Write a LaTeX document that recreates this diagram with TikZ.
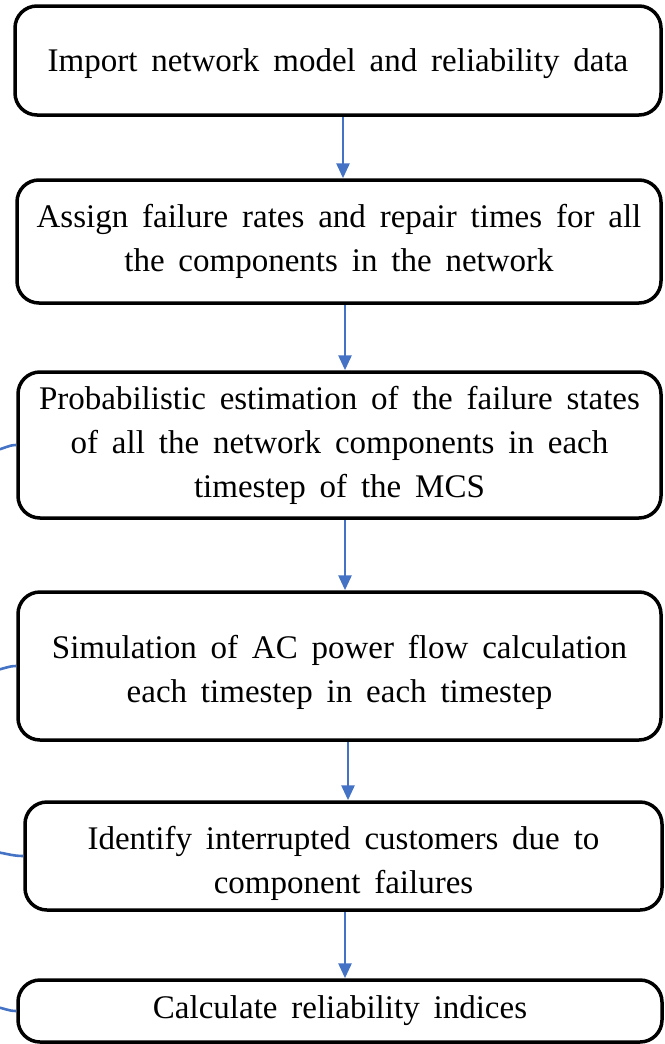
\documentclass[tikz,border=0pt]{standalone}
\usepackage{fontspec}
\setmainfont{Liberation Serif}
\usetikzlibrary{arrows.meta}
\definecolor{flowblue}{RGB}{68,114,196}
\newcommand\stepfont{\fontsize{33pt}{44pt}\selectfont\spaceskip=0.42em plus 0.1em\relax}
\tikzset{
  stepbox/.style={draw=black, line width=3.5pt, rounded corners=22pt,
    inner sep=0pt, align=center, fill=white, font=\stepfont},
  flow/.style={draw=flowblue, line width=2.8pt,
    -{Triangle[length=15pt,width=13pt]}},
  loopend/.style={draw=flowblue, line width=2.6pt}
}
\begin{document}
\begin{tikzpicture}[x=1pt,y=1pt]
\useasboundingbox (0,0) rectangle (664,-1044);
\clip (0,0) rectangle (664,-1044);

\node[stepbox, minimum width=646pt, minimum height=109pt, text height=29pt] (b1) at (338,-60.5)
  {Import network model and reliability data};
\node[stepbox, minimum width=644pt, minimum height=123pt] (b2) at (339,-241.5)
  {Assign failure rates and repair times for all\\the components in the network};
\node[stepbox, minimum width=643pt, minimum height=146pt] (b3) at (339.5,-445)
  {Probabilistic estimation of the failure states\\of all the network components in each\\timestep of the MCS};
\node[stepbox, minimum width=643pt, minimum height=148pt, text height=80pt] (b4) at (339.5,-666)
  {Simulation of AC power flow calculation\\each timestep in each timestep};
\node[stepbox, minimum width=637pt, minimum height=108pt, text height=82pt] (b5) at (343.5,-856)
  {Identify interrupted customers due to\\component failures};
\node[stepbox, minimum width=644pt, minimum height=62pt] (b6) at (340,-1011)
  {Calculate reliability indices};

% x positions of the downward connectors
\coordinate (a1) at (343,0);
\coordinate (a2) at (345,0);
\coordinate (a3) at (345,0);
\coordinate (a4) at (348,0);
\coordinate (a5) at (345,0);

% downward flow between the steps
\draw[flow] (b1.south -| a1) -- (b2.north -| a1);
\draw[flow] (b2.south -| a2) -- (b3.north -| a2);
\draw[flow] (b3.south -| a3) -- (b4.north -| a3);
\draw[flow] (b4.south -| a4) -- (b5.north -| a4);
\draw[flow] (b5.south -| a5) -- (b6.north -| a5);

% ends of the return connectors on the left side
\coordinate (r3) at (-4,-450);
\coordinate (r4) at (-4,-670);
\coordinate (r5) at (-4,-852);
\coordinate (r6) at (-4,-1007);
\draw[loopend] (r3) to[out=8,in=180] (b3.west);
\draw[loopend] (r4) to[out=8,in=180] (b4.west);
\draw[loopend] (r5) to[out=-8,in=180] (b5.west);
\draw[loopend] (r6) to[out=-8,in=180] (b6.west);
\end{tikzpicture}
\end{document}
